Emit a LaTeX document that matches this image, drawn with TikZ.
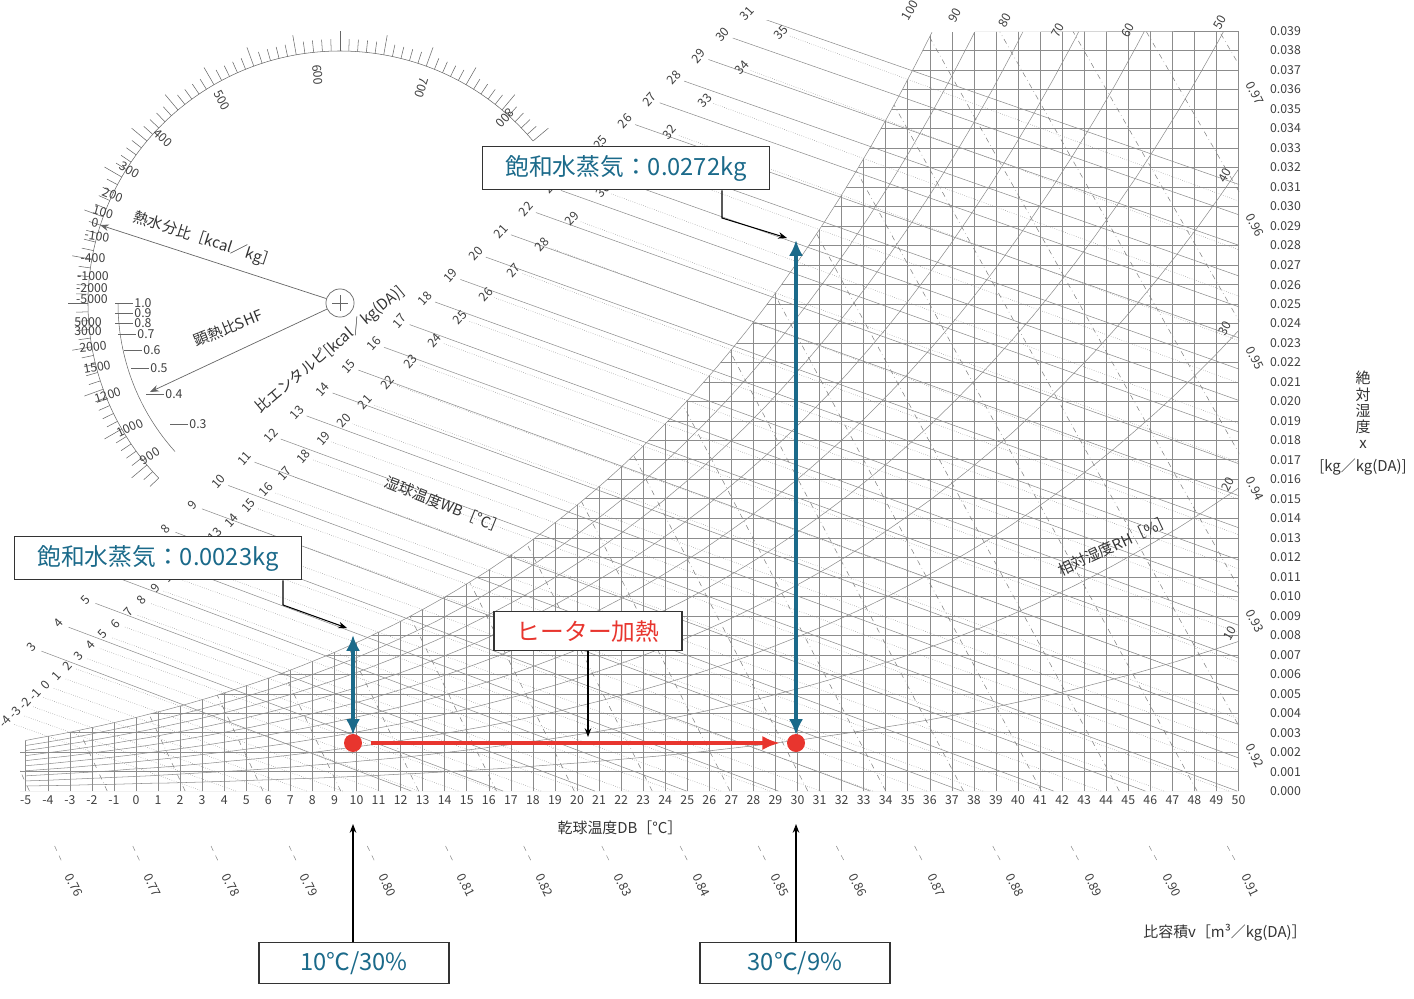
\documentclass[tikz,border=0pt]{standalone}
\usepackage{fontspec}
\setmainfont{Noto Sans CJK JP}
\usetikzlibrary{calc,arrows.meta}
\definecolor{cblue}{HTML}{1B6A8A}
\definecolor{cred}{HTML}{E8352E}
\definecolor{gridc}{HTML}{8C8C8C}
\begin{document}
\begin{tikzpicture}[x=0.02cm,y=-0.02cm,
  declare function={ps(\a)=0.61094*exp(17.625*\a/(\a+243.04));
    xs(\a)=0.622*ps(\a)/(101.325-ps(\a));
    X(\a)=136+22.05*\a; Y(\a)=791-760*\a/0.039;},
  gl/.style={draw=gridc,line width=0.3pt},
  tl/.style={font=\fontsize{7}{8}\selectfont,text=black!75,inner sep=1pt},
  ll/.style={font=\fontsize{8.5}{9}\selectfont,text=black!80,inner sep=1pt},
  bx/.style={draw=black!80,line width=0.8pt,fill=white,inner xsep=13pt,inner ysep=5pt,font=\fontsize{13.5}{15}\selectfont},
  pt/.style={-{Stealth[length=5pt]},line width=0.6pt}]
\useasboundingbox (0,0) rectangle (1414,998);
% ---- grid clipped to the unsaturated region
\begin{scope}
\clip (20,791) -- (20,{Y(xs(-5))}) -- plot[domain=-5:36.1,samples=60] ({X(\x)},{Y(xs(\x))}) -- (1239,31) -- (1239,791) -- cycle;
\foreach \i in {0,...,39} \draw[gl] (20,{Y(\i/1000)}) -- (1239,{Y(\i/1000)});
\foreach \t in {-5,...,50} \draw[gl] ({X(\t)},791) -- ({X(\t)},20);
\foreach \p in {10,20,...,90}
  \draw[gl] plot[domain=-5:50,samples=60] ({X(\x)},{Y(0.622*\p/100*ps(\x)/(101.325-\p/100*ps(\x)))});
\foreach \i in {76,...,97}{
  \pgfmathsetmacro\ta{\i/100*353.05-273.15}
  \pgfmathsetmacro\tb{\i/100*353.05/1.06431-273.15}
  \draw[gl,dash dot,draw=gray] ({X(\ta)},791) -- ({X(\tb)},{Y(0.04)});
}
\end{scope}
\draw[gl] plot[domain=-5:36.1,samples=60] ({X(\x)},{Y(xs(\x))});
% ---- enthalpy and wet bulb lines
\coordinate (l1) at (0,688); \coordinate (l2) at (780,-4);
\coordinate (m1) at (0,736); \coordinate (m2) at (830,0);
\begin{scope}
\clip (0,20) rectangle (1239,791);
\foreach \k in {3,...,31}{
  \pgfmathsetmacro\h{4.186*\k}
  \pgfmathsetmacro\ta{\h/1.006}
  \pgfmathsetmacro\tb{(\h-100.04)/1.0804}
  \coordinate (p0) at ({X(\ta)},791);
  \coordinate (p1) at ({X(\tb)},{Y(0.04)});
  \coordinate (e) at (intersection of p0--p1 and l1--l2);
  \draw[gl] (p0) -- (e);
}
\foreach \s in {-4,...,35}{
  \pgfmathsetmacro\w{xs(\s)}
  \pgfmathsetmacro\ta{\s+\w*(2501-2.326*\s)/1.006}
  \coordinate (p0) at ({X(\ta)},791);
  \coordinate (s1) at ({X(\s)},{Y(\w)});
  \coordinate (e) at (intersection of p0--s1 and m1--m2);
  \draw[gl,densely dotted] (p0) -- (e);
}
\end{scope}
\foreach \k in {3,...,31}{
  \pgfmathsetmacro\h{4.186*\k}
  \pgfmathsetmacro\ta{\h/1.006}
  \pgfmathsetmacro\tb{(\h-100.04)/1.0804}
  \coordinate (p0) at ({X(\ta)},791);
  \coordinate (p1) at ({X(\tb)},{Y(0.04)});
  \coordinate (e) at (intersection of p0--p1 and l1--l2);
  \node[tl,rotate=48] at ($(e)!-6pt!(p0)$) {\k};
}
\foreach \s in {-4,...,35}{
  \pgfmathsetmacro\w{xs(\s)}
  \pgfmathsetmacro\ta{\s+\w*(2501-2.326*\s)/1.006}
  \coordinate (p0) at ({X(\ta)},791);
  \coordinate (s1) at ({X(\s)},{Y(\w)});
  \coordinate (e) at (intersection of p0--s1 and m1--m2);
  \node[tl,rotate=48] at ($(e)!-5pt!(p0)$) {\s};
}
% ---- axis labels
\foreach \i in {0,...,39} \node[tl,anchor=west] at (1268,{Y(\i/1000)}) {\ifnum\i<10 0.00\i\else 0.0\i\fi};
\foreach \t in {-5,...,50} \node[tl] at ({X(\t)},800) {\t};
\foreach \i in {76,...,91}{
  \pgfmathsetmacro\ta{\i/100*353.05-273.15}
  \pgfmathsetmacro\tb{\i/100*353.05/1.06431-273.15}
  \pgfmathsetmacro\xa{X(\ta)}\pgfmathsetmacro\xb{X(\tb)}
  \pgfmathsetmacro\d{(\xa-\xb)/780}
  \draw[gl,dashed] ({\xa+\d*55},846) -- ({\xa+\d*72},863);
  \node[tl,rotate=-64] at ({\xa+\d*97},885) {0.\i};
}
\foreach \i in {92,...,97}{
  \pgfmathsetmacro\xv{(\i/100/0.91531-1)/1.6078}
  \node[tl,rotate=-64] at (1255,{Y(\xv)+25}) {0.\i};
}
\foreach \p/\px/\py in {10/1230/633,20/1228/484,30/1225/328,40/1225/175,50/1220/22,60/1128/30,70/1058/30,80/1005/20,90/955/15,100/910/10}
  \node[tl,rotate=60] at (\px,\py) {\p};
\node[ll,rotate=-22] at (445,505) {湿球温度WB［°C］};
\node[ll,rotate=25] at (1115,545) {相対湿度RH［\%］};
\node[ll,rotate=40] at (330,350) {比エンタルピ[kcal／kg(DA)]};
\node[ll] at (620,828) {乾球温度DB［°C］};
\node[ll] at (1225,933) {比容積v［m³／kg(DA)］};
\foreach \c/\yy in {絶/378,対/395,湿/411,度/427,x/444}
  \node[ll] at (1363,\yy) {\c};
\node[ll] at (1363,467) {[kg／kg(DA)]};
% ---- protractor
\coordinate (C) at (340,303);
\foreach \a in {40,42,...,224}{
  \pgfmathsetmacro\r{ifthenelse(mod(\a,10)==0,272,264)}
  \draw[gl,draw=black!60] ($(C)+(-\a:252)$) -- ($(C)+(-\a:\r)$);
}
\draw[gl,draw=black!60] ($(C)+(-40:252)$) arc[start angle=-40,end angle=-224,radius=252];
\foreach \t/\px/\py/\r in {800/505/118/-132,700/422/88/-108,600/318/75/-85,500/222/100/-60,400/163/138/-43,300/130/170/-30,200/113/195/-22,100/103/212/-15,0/95/223/-10,-100/97/236/-8,-400/93/258/0,-1000/93/276/0,-2000/92/288/0,-5000/92/299/0,5000/88/322/0,3000/88/331/0,2000/93/347/5,1500/97/367/10,1200/108/395/18,1000/130/428/25,900/150/456/32}
  \node[tl,rotate=\r] at (\px,\py) {\t};
\draw[gl,draw=black!60] ($(C)+(-180:222)$) arc[start angle=-180,end angle=-222,radius=222];
\foreach \t/\px/\py in {1.0/143/303,0.9/143/313,0.8/143/323,0.7/146/334,0.6/152/350,0.5/159/368,0.4/174/394,0.3/198/424}{
  \draw[gl,draw=black!60] (\px-28,\py) -- (\px-10,\py);
  \node[tl] at (\px,\py) {\t};
}
\node[draw=black!60,circle,minimum size=16,inner sep=0] (cc) at (C) {};
\draw[gl,draw=black!60] (332,303) -- (348,303) (340,295) -- (340,311);
\coordinate (a1) at (100,225); \coordinate (a2) at (150,392);
\draw[-{Stealth[length=5pt]},draw=black!60,line width=0.4pt] (cc) -- (a1);
\draw[-{Stealth[length=5pt]},draw=black!60,line width=0.4pt] (cc) -- (a2);
\node[ll,rotate=-18] at (205,240) {熱水分比［kcal／kg］};
\node[ll,rotate=22] at (228,328) {顕熱比SHF};
% ---- annotations
\coordinate (d1) at (353,743); \coordinate (d2) at (796,743);
\coordinate (t1) at (353,635); \coordinate (t2) at (796,240);
\draw[cblue,line width=2.2pt,{Latex[length=9pt,width=8pt]}-{Latex[length=9pt,width=8pt]}] (t1) -- ($(d1)+(0,-8)$);
\draw[cblue,line width=2.2pt,{Latex[length=9pt,width=8pt]}-{Latex[length=9pt,width=8pt]}] (t2) -- ($(d2)+(0,-8)$);
\draw[cred,line width=2.2pt,-{Latex[length=10pt,width=8pt]}] ($(d1)+(18,0)$) -- ($(d2)+(-16,0)$);
\fill[cred] (d1) circle (9);
\fill[cred] (d2) circle (9);
\node[bx,text=cblue] (b1) at (626,168) {飽和水蒸気：0.0272kg};
\node[bx,text=cblue] (b2) at (158,558) {飽和水蒸気：0.0023kg};
\node[bx,text=cred] (b3) at (588,631) {ヒーター加熱};
\node[bx,text=cblue,minimum width=3.8cm] (b4) at (354,963) {10℃/30\%};
\node[bx,text=cblue,minimum width=3.8cm] (b5) at (795,963) {30℃/9\%};
\coordinate (k1) at (722,218); \coordinate (e1) at (787,238);
\coordinate (k2) at (283,605); \coordinate (e2) at (347,628);
\coordinate (e3) at (588,737);
\coordinate (e4) at (353,824); \coordinate (e5) at (796,824);
\draw[pt] (b1.south -| k1) -- (k1) -- (e1);
\draw[pt] (b2.south -| k2) -- (k2) -- (e2);
\draw[pt] (b3.south) -- (e3);
\draw[pt] (b4.north -| e4) -- (e4);
\draw[pt] (b5.north -| e5) -- (e5);
\end{tikzpicture}
\end{document}
